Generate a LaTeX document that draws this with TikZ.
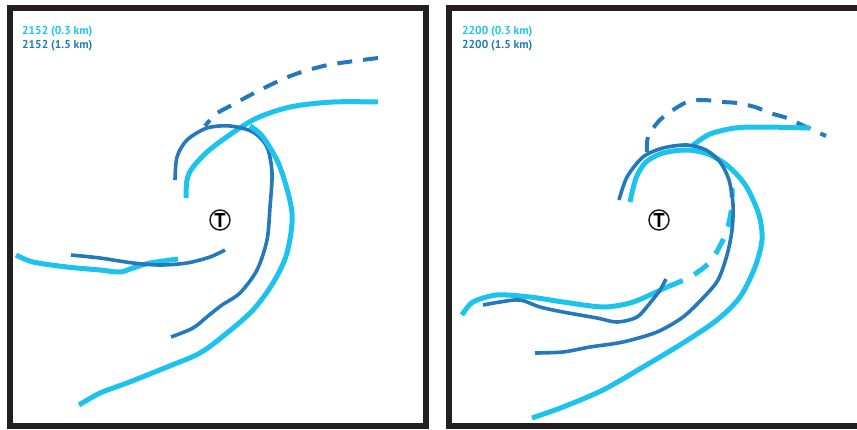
\documentclass[tikz,border=0pt]{standalone}
\usepackage{fontspec}
\setmainfont{PT Sans}
\definecolor{lowcol}{HTML}{1DC3EF}
\definecolor{highcol}{HTML}{2479BD}
\definecolor{framecol}{HTML}{231F20}

\begin{document}
\begin{tikzpicture}[x=1pt, y=-1pt,
  frame/.style={draw=framecol, line width=6pt},
  low/.style={lowcol, line width=5pt},
  high/.style={highcol, line width=3.6pt},
  highdash/.style={high, line width=4pt, dash pattern=on 15pt off 11pt},
  lowdash/.style={low, dash pattern=on 17pt off 13pt},
  lbl/.style={font=\fontsize{11.5}{13}\selectfont\bfseries, anchor=base west, inner sep=0pt},
  tsym/.style={circle, draw=framecol, line width=1.5pt, fill=white, minimum size=20pt, inner sep=0pt, font=\fontsize{20}{20}\selectfont\bfseries},
]
\useasboundingbox (0,0) rectangle (857,429);

% ── Frames ──
\draw[frame] (9.5,8) rectangle (425.5,426);
\begin{scope}
  \clip (0,0) rectangle (857,429);
  \draw[frame] (448.5,8) rectangle (870,426);
\end{scope}

% ── Left panel (2152) ──
\node[lbl, lowcol] (lowA) at (22,34) {2152 (0.3 km)};
\node[lbl, highcol] (highA) at (22,48) {2152 (1.5 km)};

\draw[highdash] plot[smooth] coordinates {(378,58) (328,65) (293,75) (262,89) (232,105) (216,114) (205,126)};
\draw[low] plot[smooth] coordinates {(378,102) (333,102) (290,107) (253,120) (213,147) (193,167) (187,180) (186,198)};
\draw[high] plot[smooth] coordinates {(175,180) (177,157) (187,140) (207,128) (230,126) (253,132) (267,147) (272,173) (270,207) (267,240) (257,270) (240,293) (222,305) (208,316) (193,328) (171,337)};
\draw[low] plot[smooth] coordinates {(250,126) (263,137) (280,167) (292,213) (287,253) (273,283) (253,310) (227,333) (200,353) (167,367) (127,383) (100,393) (79,405)};
\draw[low] plot[smooth] coordinates {(16,255) (33,262) (67,267) (100,270) (120,272) (133,268) (150,263) (178,259)};
\draw[high] plot[smooth] coordinates {(71,255) (100,258) (133,263) (160,265) (187,263) (210,257) (225,250)};

\node[tsym] (ctrA) at (220,220) {T};

% ── Right panel (2200) ──
\node[lbl, lowcol] (lowB) at (462,34) {2200 (0.3 km)};
\node[lbl, highcol] (highB) at (462,48) {2200 (1.5 km)};

\draw[highdash] plot[smooth] coordinates {(647,152) (648,137) (658,122) (670,112) (687,102) (703,100) (723,102) (737,103) (755,107) (770,113) (787,118) (802,125) (826,136)};
\draw[low] plot[smooth] coordinates {(810,128) (763,127) (735,128) (710,134) (693,145)};
\draw[low] plot[smooth] coordinates {(630,202) (636,178) (646,162) (663,153) (687,150) (708,154) (728,166) (746,186) (759,215) (762,240) (755,267) (740,297) (717,320) (683,343) (643,367) (603,390) (563,407) (532,418)};
\draw[low] plot[smooth] coordinates {(462,315) (473,302) (497,295) (530,297) (563,302) (603,307) (630,303) (650,295) (667,287)};
\draw[lowdash] plot[smooth] coordinates {(667,287) (690,277) (710,262) (723,240) (728,227) (732,205) (732,188)};
\draw[high] plot[smooth] coordinates {(619,200) (627,177) (643,157) (663,148) (687,145) (706,150) (720,162) (729,180) (733,205) (732,230) (727,255) (718,280) (703,298) (683,317) (657,332) (623,342) (590,347) (563,352) (535,353)};
\draw[high] plot[smooth] coordinates {(483,305) (500,302) (520,300) (540,307) (563,312) (597,318) (617,322) (637,317) (650,303) (660,290) (666,279)};

\node[tsym] (ctrB) at (659,220) {T};

\end{tikzpicture}
\end{document}
